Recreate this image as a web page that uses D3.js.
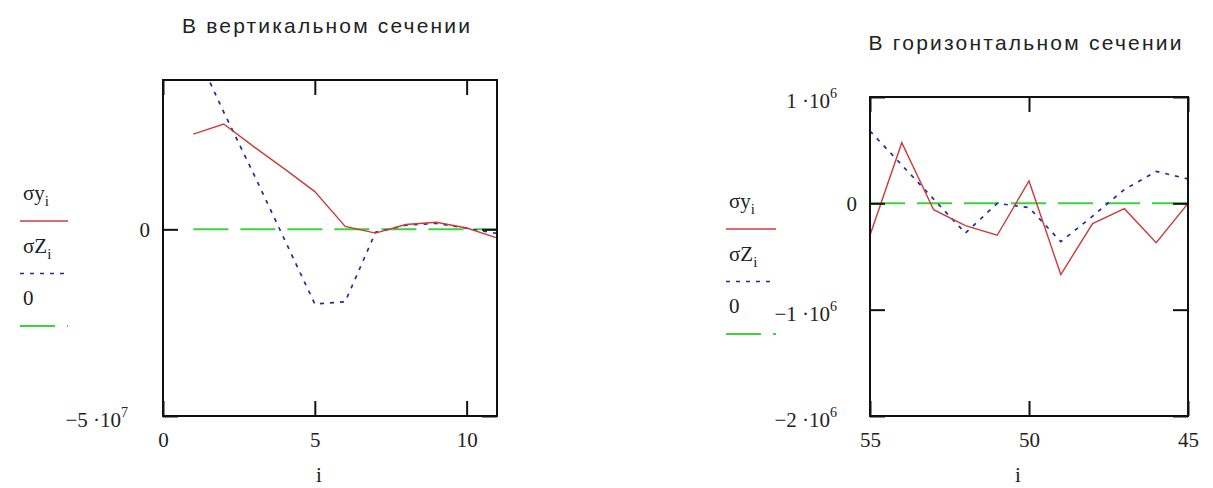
<!DOCTYPE html>
<html lang="ru">
<head>
    <meta charset="utf-8">
    <title>Напряжения в сечениях</title>
    <script type="text/javascript" src="https://cdn.jsdelivr.net/npm/d3@7"></script>
    <style type="text/css">
        body { margin: 0; background: #fff; }
        text { fill: #222; }
    </style>
</head>
<body>
<script type="text/javascript">

var w = 1213
var h = 488
var serif = "'Liberation Serif', 'DejaVu Serif', serif"
var sans = "'Liberation Sans', Arial, sans-serif"

// left chart: vertical section
var leftIdx = [1, 2, 3, 4, 5, 6, 7, 8, 9, 10, 11]
var leftSigmaY = [2.55e7, 2.82e7, 2.21e7, 1.62e7, 1.01e7, 0.08e7, -0.10e7, 0.13e7, 0.19e7, 0.035e7, -0.23e7]
var leftSigmaZ = [4.9e7, 3.14e7, 1.46e7, -0.27e7, -2.0e7, -1.94e7, -0.08e7, 0.11e7, 0.16e7, 0.03e7, -0.11e7]
var leftZero = [0, 0, 0, 0, 0, 0, 0, 0, 0, 0, 0]
var leftXTicks = [0, 5, 10]
var leftYTicks = [0, -5e7]

// right chart: horizontal section
var rightIdx = [55, 54, 53, 52, 51, 50, 49, 48, 47, 46, 45]
var rightSigmaY = [-0.30e6, 0.57e6, -0.06e6, -0.21e6, -0.30e6, 0.21e6, -0.67e6, -0.19e6, -0.05e6, -0.37e6, 0]
var rightSigmaZ = [0.68e6, 0.36e6, 0.04e6, -0.28e6, 0.0, -0.04e6, -0.36e6, -0.12e6, 0.13e6, 0.30e6, 0.23e6]
var rightZero = [0, 0, 0, 0, 0, 0, 0, 0, 0, 0, 0]
var rightXTicks = [55, 50, 45]
var rightYTicks = [1e6, 0, -1e6, -2e6]

var colRed = "#cc3b3b"
var colBlue = "#28289a"
var colGreen = "#3fd23f"

var svg = d3.select("body")
    .append("svg")
    .attr("width", w)
    .attr("height", h);

// tick text like "−5·10" + superscript "7"
var expFormat = function(d){
    if (d === 0) return ["0", ""];
    var e = Math.floor(Math.log10(Math.abs(d)));
    var m = d / Math.pow(10, e);
    return [(m < 0 ? "\u2212" : "") + Math.abs(m) + " \u00b710", String(e)];
}

var plotChart = function(opt){
    var g = svg.append("g");

    var x = d3.scaleLinear().domain(opt.xDomain).range([opt.left, opt.right]);
    var y = d3.scaleLinear().domain(opt.yDomain).range([opt.bottom, opt.top]);

    // title
    g.append("text")
        .attr("font-family", sans)
        .attr("font-size", 21)
        .attr("x", opt.titleX)
        .attr("y", opt.titleY)
        .attr("text-anchor", "middle")
        .attr("textLength", opt.titleLen)
        .attr("lengthAdjust", "spacing")
        .text(opt.title);

    var clipId = "clip" + opt.id;
    svg.append("clipPath").attr("id", clipId)
        .append("rect")
        .attr("x", opt.left).attr("y", opt.top)
        .attr("width", opt.right - opt.left)
        .attr("height", opt.bottom - opt.top);

    var line = d3.line()
        .x(function(d){ return x(d[0]); })
        .y(function(d){ return y(d[1]); });

    var series = [
        {vals: opt.sy, color: colRed, dash: null, width: 1.4},
        {vals: opt.sz, color: colBlue, dash: "4,6", width: 1.7},
        {vals: opt.zero, color: colGreen, dash: "35,12", width: 2}
    ];

    // zero line under the others
    [2, 1, 0].forEach(function(k){
        var s = series[k];
        g.append("path")
            .datum(d3.zip(opt.idx, s.vals))
            .attr("clip-path", "url(#" + clipId + ")")
            .attr("d", line)
            .attr("fill", "none")
            .attr("stroke", s.color)
            .attr("stroke-width", s.width)
            .attr("stroke-dasharray", s.dash);
    });

    // frame
    g.append("rect")
        .attr("x", opt.left).attr("y", opt.top)
        .attr("width", opt.right - opt.left)
        .attr("height", opt.bottom - opt.top)
        .attr("fill", "none")
        .attr("stroke", "#111")
        .attr("stroke-width", 2);

    // axes, ticks inside the frame
    g.append("g")
        .attr("transform", "translate(0," + opt.bottom + ")")
        .call(d3.axisBottom(x).tickValues(opt.xTicks).tickSize(-15).tickPadding(16).tickFormat(d3.format("d")));
    g.append("g")
        .attr("transform", "translate(0," + opt.top + ")")
        .call(d3.axisTop(x).tickValues(opt.xTicks).tickSize(-15).tickFormat(""));
    var axL = g.append("g")
        .attr("transform", "translate(" + opt.left + ",0)")
        .call(d3.axisLeft(y).tickValues(opt.yTicks).tickSize(-15).tickPadding(13));
    g.append("g")
        .attr("transform", "translate(" + opt.right + ",0)")
        .call(d3.axisRight(y).tickValues(opt.yTicks).tickSize(-15).tickFormat(""));

    g.selectAll(".domain").remove();
    g.selectAll(".tick line").attr("stroke", "#111").attr("stroke-width", 2);
    g.selectAll(".tick text")
        .attr("font-family", serif)
        .attr("font-size", 21)
        .attr("fill", "#222");

    axL.selectAll(".tick text").each(function(d){
        var f = expFormat(d);
        var t = d3.select(this).text(null);
        t.append("tspan").text(f[0]);
        if (f[1]) {
            t.attr("dx", -opt.expShift).attr("dy", "0.5em");
            t.append("tspan").attr("dy", -10).attr("font-size", 14).text(f[1]);
        }
    });

    // axis name
    g.append("text")
        .attr("font-family", serif)
        .attr("font-size", 21)
        .attr("x", (opt.left + opt.right) / 2 - 11)
        .attr("y", 482)
        .attr("text-anchor", "middle")
        .text("i");

    // legend
    var lg = g.append("g").attr("transform", "translate(" + opt.legX + "," + opt.legY + ")");
    var names = [["\u03c3y", "i"], ["\u03c3Z", "i"], ["0", ""]];
    names.forEach(function(n, k){
        var t = lg.append("text")
            .attr("font-family", serif)
            .attr("font-size", 21)
            .attr("x", 3)
            .attr("y", k * 52.5);
        t.append("tspan").text(n[0]);
        if (n[1]) t.append("tspan").attr("dy", 6).attr("font-size", 15).text(n[1]);
        var s = series[k];
        lg.append("line")
            .attr("x1", 0).attr("x2", opt.legW)
            .attr("y1", k * 52.5 + 21).attr("y2", k * 52.5 + 21)
            .attr("stroke", s.color)
            .attr("stroke-width", s.width)
            .attr("stroke-dasharray", s.dash);
    });
}

plotChart({
    id: "L", title: "В вертикальном сечении",
    titleX: 326, titleY: 33, titleLen: 288,
    left: 163, right: 497, top: 80, bottom: 416,
    xDomain: [0, 11], yDomain: [-5e7, 4e7],
    xTicks: leftXTicks, yTicks: leftYTicks,
    idx: leftIdx, sy: leftSigmaY, sz: leftSigmaZ, zero: leftZero,
    expShift: 22, legX: 20, legY: 200, legW: 48
});

plotChart({
    id: "R", title: "В горизонтальном сечении",
    titleX: 1025, titleY: 50, titleLen: 313,
    left: 870, right: 1188, top: 97, bottom: 416,
    xDomain: [55, 45], yDomain: [-2e6, 1e6],
    xTicks: rightXTicks, yTicks: rightYTicks,
    idx: rightIdx, sy: rightSigmaY, sz: rightSigmaZ, zero: rightZero,
    expShift: 20, legX: 726, legY: 208, legW: 50
});

</script>
</body>
</html>
